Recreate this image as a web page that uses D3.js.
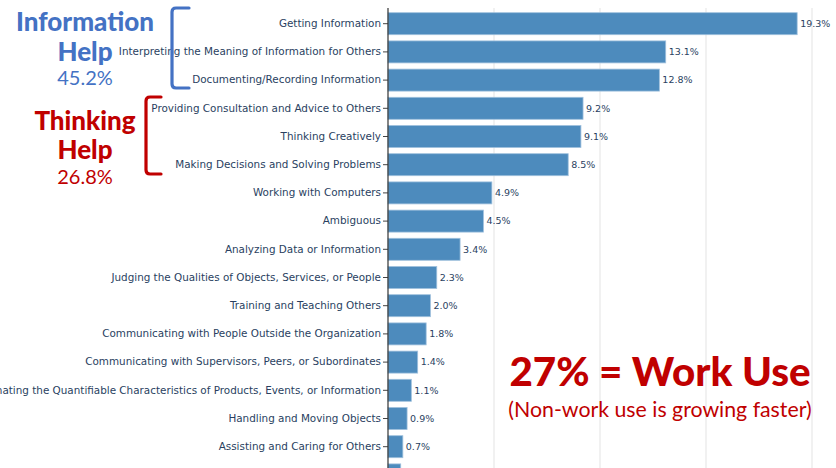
<!DOCTYPE html>
<html>
<head>
<meta charset="utf-8">
<script src="https://cdn.jsdelivr.net/npm/d3@7"></script>
<style>
  html, body { margin: 0; padding: 0; background: #fff; }
  svg { display: block; }
</style>
</head>
<body>
<svg id="chart" width="836" height="468"></svg>
<script>
const categories = [
  "Getting Information",
  "Interpreting the Meaning of Information for Others",
  "Documenting/Recording Information",
  "Providing Consultation and Advice to Others",
  "Thinking Creatively",
  "Making Decisions and Solving Problems",
  "Working with Computers",
  "Ambiguous",
  "Analyzing Data or Information",
  "Judging the Qualities of Objects, Services, or People",
  "Training and Teaching Others",
  "Communicating with People Outside the Organization",
  "Communicating with Supervisors, Peers, or Subordinates",
  "Estimating the Quantifiable Characteristics of Products, Events, or Information",
  "Handling and Moving Objects",
  "Assisting and Caring for Others",
  "Other"
];
const shares = [19.3, 13.1, 12.8, 9.2, 9.1, 8.5, 4.9, 4.5, 3.4, 2.3, 2.0, 1.8, 1.4, 1.1, 0.9, 0.7, 0.6];
const valueLabels = ["19.3%","13.1%","12.8%","9.2%","9.1%","8.5%","4.9%","4.5%","3.4%","2.3%","2.0%","1.8%","1.4%","1.1%","0.9%","0.7%","0.6%"];
const gridTicks = [5, 10, 15, 20];
const groupTitles = [["Information", "Help"], ["Thinking", "Help"]];
const groupShares = ["45.2%", "26.8%"];
const headline = "27% = Work Use";
const subline = "(Non-work use is growing faster)";

const svg = d3.select("#chart");
const x0 = 388;
const x = d3.scaleLinear().domain([0, 20]).range([x0, x0 + 424]);
const y = d3.scaleBand().domain(categories).range([9.6, 9.6 + 28.2 * categories.length])
  .paddingInner(0.22).paddingOuter(0.11);

const blue = "#4472c4";
const red = "#c00000";
const labelFont = "'DejaVu Sans', Verdana, sans-serif";
const titleFont = "Lato, 'Open Sans', sans-serif";

// gridlines
svg.append("g").selectAll("line").data(gridTicks).join("line")
  .attr("x1", d => x(d)).attr("x2", d => x(d))
  .attr("y1", 8).attr("y2", 468)
  .attr("stroke", "#e3e3e3").attr("stroke-width", 1);

// bars
svg.append("g").selectAll("rect").data(categories).join("rect")
  .attr("x", x(0))
  .attr("y", d => y(d))
  .attr("width", (d, i) => x(shares[i]) - x(0))
  .attr("height", y.bandwidth())
  .attr("fill", "#4d8bbd")
  .attr("stroke", "#9fc0dd")
  .attr("stroke-width", 0.8);

// value labels (rows whose centre falls below the picture are not drawn)
const H = 468;
svg.append("g").selectAll("text").data(categories.filter(d => y(d) + y.bandwidth() / 2 < H)).join("text")
  .attr("x", d => x(shares[categories.indexOf(d)]) + 3)
  .attr("y", d => y(d) + y.bandwidth() / 2)
  .attr("dy", "0.35em")
  .attr("font-family", labelFont)
  .attr("font-size", 9.5)
  .attr("fill", "#2a3f5f")
  .text(d => valueLabels[categories.indexOf(d)]);

// y axis
const yAxis = d3.axisLeft(y).tickSize(5).tickPadding(2)
  .tickFormat(d => (y(d) + y.bandwidth() / 2 < H ? d : ""));
const gy = svg.append("g").attr("transform", `translate(${x0},0)`).call(yAxis);
gy.select(".domain").remove();
gy.selectAll(".tick line").attr("stroke", "#444");
gy.selectAll(".tick text")
  .attr("font-family", labelFont)
  .attr("font-size", 10.4)
  .attr("fill", "#2a3f5f");
svg.append("line").attr("x1", x0).attr("x2", x0).attr("y1", 8).attr("y2", 468)
  .attr("stroke", "#333").attr("stroke-width", 1.2);

// group annotations
function bracket(xv, xa, y1, y2, color) {
  const r = 4;
  const p = `M${xa},${y1} L${xv + r},${y1} Q${xv},${y1} ${xv},${y1 + r} L${xv},${y2 - r} Q${xv},${y2} ${xv + r},${y2} L${xa},${y2}`;
  svg.append("path").attr("d", p).attr("fill", "none")
    .attr("stroke", color).attr("stroke-width", 3.2).attr("stroke-linecap", "round");
}
bracket(172, 189, 8, 88, blue);
bracket(146, 161, 97, 174, red);

const groups = [
  { color: blue, cx: 85, y: [31, 61, 85] },
  { color: red, cx: 85, y: [130, 159, 184] }
];
groups.forEach((g, i) => {
  svg.append("text").attr("x", g.cx).attr("y", g.y[0]).attr("text-anchor", "middle")
    .attr("font-family", titleFont).attr("font-weight", 900).attr("font-size", 26)
    .attr("fill", g.color).text(groupTitles[i][0]);
  svg.append("text").attr("x", g.cx).attr("y", g.y[1]).attr("text-anchor", "middle")
    .attr("font-family", titleFont).attr("font-weight", 900).attr("font-size", 26)
    .attr("fill", g.color).text(groupTitles[i][1]);
  svg.append("text").attr("x", g.cx).attr("y", g.y[2]).attr("text-anchor", "middle")
    .attr("font-family", titleFont).attr("font-weight", 400).attr("font-size", 20)
    .attr("fill", g.color).text(groupShares[i]);
});

svg.append("text").attr("x", 660).attr("y", 386).attr("text-anchor", "middle")
  .attr("font-family", titleFont).attr("font-weight", 900).attr("font-size", 40.3)
  .attr("fill", red).text(headline);
svg.append("text").attr("x", 660).attr("y", 417).attr("text-anchor", "middle")
  .attr("font-family", titleFont).attr("font-weight", 400).attr("font-size", 21.3)
  .attr("fill", red).text(subline);
</script>
</body>
</html>
